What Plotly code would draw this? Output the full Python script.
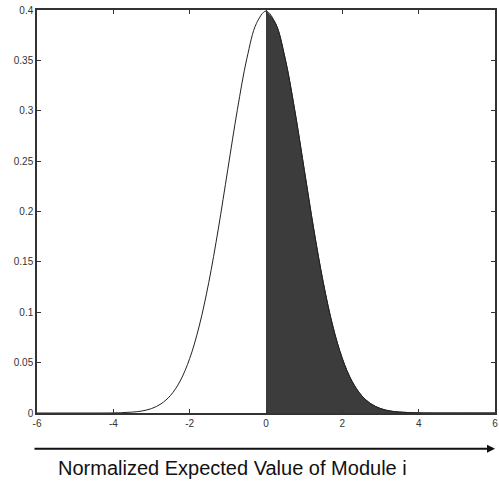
import plotly.graph_objects as go

# Values (density curve)
x_vals = [-6, -5.5, -5, -4.5, -4, -3.75, -3.5, -3.25, -3, -2.75, -2.5, -2.25, -2, -1.75,
          -1.5, -1.25, -1, -0.75, -0.5, -0.25, 0, 0.25, 0.5, 0.75, 1, 1.25, 1.5, 1.75,
          2, 2.25, 2.5, 2.75, 3, 3.25, 3.5, 3.75, 4, 4.5, 5, 5.5, 6]
y_vals = [0.0, 0.0, 0.0, 0.0, 0.0001, 0.0004, 0.0009, 0.0020, 0.0044, 0.0091, 0.0175, 0.0317,
          0.0540, 0.0863, 0.1295, 0.1826, 0.2420, 0.3011, 0.3521, 0.3867, 0.3989, 0.3867,
          0.3521, 0.3011, 0.2420, 0.1826, 0.1295, 0.0863, 0.0540, 0.0317, 0.0175, 0.0091,
          0.0044, 0.0020, 0.0009, 0.0004, 0.0001, 0.0, 0.0, 0.0, 0.0]
x_ticks = [-6, -4, -2, 0, 2, 4, 6]
y_ticks = [0, 0.05, 0.1, 0.15, 0.2, 0.25, 0.3, 0.35, 0.4]
y_tick_text = ["0", "0.05", "0.1", "0.15", "0.2", "0.25", "0.3", "0.35", "0.4"]
axis_title = "Normalized Expected Value of Module i"

shade_x = [x for x in x_vals if x >= 0]
shade_y = [y for x, y in zip(x_vals, y_vals) if x >= 0]

fig = go.Figure()
fig.add_trace(go.Scatter(x=shade_x, y=shade_y, mode="lines", fill="tozeroy",
                         fillcolor="#3c3c3c", line=dict(color="#2a2a2a", width=1, shape="spline"),
                         hoverinfo="skip"))
fig.add_trace(go.Scatter(x=x_vals, y=y_vals, mode="lines",
                         line=dict(color="#222222", width=1, shape="spline")))

axis_common = dict(showgrid=False, zeroline=False, showline=True, linecolor="#333333",
                   linewidth=1.5, mirror="ticks", ticks="inside", ticklen=4,
                   tickcolor="#333333",
                   tickfont=dict(family="Liberation Sans, Arial", size=10, color="#333333"))

fig.update_xaxes(range=[-6, 6], tickvals=x_ticks, ticktext=[str(t) for t in x_ticks], **axis_common)
fig.update_yaxes(range=[0, 0.4], tickvals=y_ticks, ticktext=y_tick_text, **axis_common)

fig.add_annotation(x=1.0, y=-0.089, xref="paper", yref="paper", ax=-462, ay=0,
                   text="", showarrow=True, arrowhead=2, arrowsize=0.8, arrowwidth=2,
                   arrowcolor="#111111")
fig.add_annotation(x=0.426, y=-0.137, xref="paper", yref="paper", text=axis_title,
                   xanchor="center", yanchor="middle",
                   showarrow=False, font=dict(family="Liberation Sans, Arial", size=20,
                                              color="#111111"))

fig.update_layout(width=499, height=482, showlegend=False,
                  margin=dict(l=37, r=2, t=10, b=69),
                  plot_bgcolor="white", paper_bgcolor="white")

fig.write_html("out.html")
